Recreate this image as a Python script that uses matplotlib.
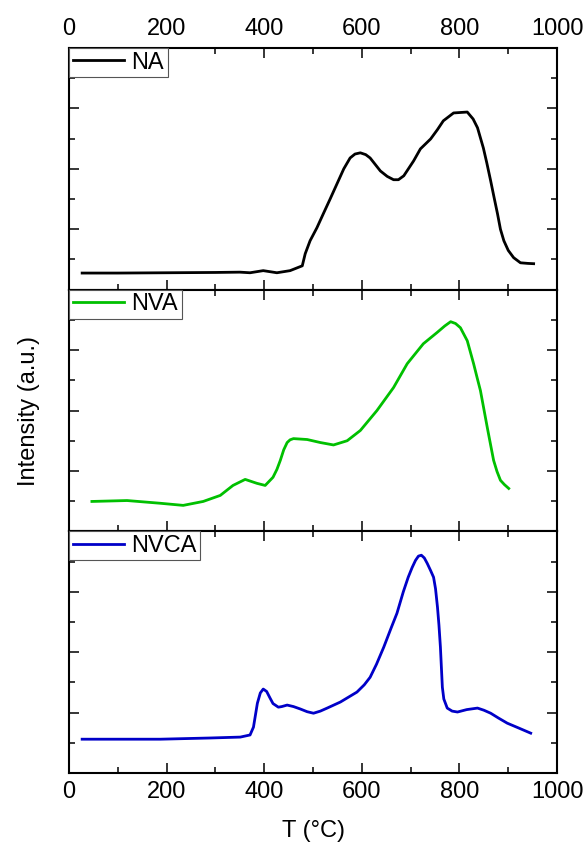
import numpy as np
import matplotlib.pyplot as plt
from matplotlib.ticker import MultipleLocator, NullFormatter

plt.rcParams['font.family'] = ['Liberation Sans', 'DejaVu Sans']
plt.rcParams['font.size'] = 17

# NA (black)
t_na = [27, 100, 200, 300, 350, 371, 398, 426, 453, 478, 484, 494, 508, 521, 535,
        549, 563, 576, 586, 597, 608, 617, 638, 652, 665, 675, 686, 706, 720, 741,
        755, 767, 788, 816, 828, 837, 849, 856, 864, 871, 878, 884, 891, 900, 911,
        925, 940, 952]
i_na = [0.55, 0.55, 0.56, 0.57, 0.58, 0.56, 0.63, 0.56, 0.63, 0.79, 1.19, 1.62, 2.05,
        2.51, 3.0, 3.5, 4.0, 4.36, 4.49, 4.53, 4.47, 4.36, 3.93, 3.75, 3.64, 3.64,
        3.77, 4.26, 4.66, 4.99, 5.3, 5.59, 5.85, 5.88, 5.65, 5.36, 4.69, 4.2, 3.6,
        3.05, 2.51, 2.0, 1.62, 1.3, 1.06, 0.89, 0.87, 0.86]

# NVA (green)
t_nva = [47, 119, 187, 234, 275, 310, 336, 361, 385, 402, 418, 426, 433, 440, 447,
         453, 460, 488, 515, 542, 570, 597, 631, 665, 693, 726, 754, 770, 782, 792,
         802, 816, 829, 836, 843, 850, 857, 864, 870, 877, 884, 892, 901]
i_nva = [0.99, 1.02, 0.93, 0.86, 0.99, 1.19, 1.52, 1.72, 1.59, 1.52, 1.79, 2.05, 2.35,
         2.7, 2.94, 3.03, 3.07, 3.04, 2.94, 2.86, 3.0, 3.34, 4.0, 4.76, 5.55, 6.21,
         6.58, 6.8, 6.94, 6.88, 6.74, 6.31, 5.55, 5.1, 4.66, 4.05, 3.44, 2.85, 2.35,
         1.98, 1.69, 1.55, 1.42]

# NVCA (blue)
t_nvca = [27, 187, 289, 351, 371, 378, 386, 392, 398, 405, 412, 418, 429, 436, 447,
          460, 474, 488, 501, 515, 529, 556, 590, 605, 617, 630, 645, 660, 672, 685,
          695, 703, 710, 716, 722, 728, 734, 741, 747, 751, 755, 758, 761, 763, 765,
          768, 775, 785, 796, 815, 837, 850, 864, 880, 898, 920, 946]
i_nvca = [1.12, 1.12, 1.16, 1.19, 1.26, 1.52, 2.31, 2.65, 2.78, 2.7, 2.48, 2.3, 2.18,
          2.2, 2.25, 2.2, 2.12, 2.03, 1.98, 2.05, 2.15, 2.35, 2.68, 2.92, 3.17, 3.6,
          4.17, 4.8, 5.29, 6.0, 6.48, 6.8, 7.04, 7.18, 7.21, 7.12, 6.94, 6.7, 6.48,
          6.1, 5.49, 4.9, 4.17, 3.5, 2.84, 2.45, 2.15, 2.05, 2.02, 2.1, 2.15, 2.08,
          1.98, 1.82, 1.65, 1.5, 1.32]

series = [(t_na, i_na, 'black', 'NA'),
          (t_nva, i_nva, '#00c000', 'NVA'),
          (t_nvca, i_nvca, '#0000c8', 'NVCA')]

fig, axes = plt.subplots(3, 1, figsize=(5.87, 8.48), dpi=100, sharex=True)
fig.subplots_adjust(left=0.1175, right=0.949, top=0.9434, bottom=0.0884, hspace=0)

for k, (ax, (t, y, col, lab)) in enumerate(zip(axes, series)):
    ax.plot(t, y, color=col, lw=2.0, label=lab, solid_joinstyle='round')
    ax.set_xlim(0, 1000)
    ax.set_ylim(0, 8)
    ax.xaxis.set_major_locator(MultipleLocator(200))
    ax.xaxis.set_minor_locator(MultipleLocator(100))
    ax.yaxis.set_major_locator(MultipleLocator(2))
    ax.yaxis.set_minor_locator(MultipleLocator(1))
    ax.yaxis.set_major_formatter(NullFormatter())
    ax.tick_params(which='both', direction='in', top=True, right=True, width=1.1)
    ax.tick_params(which='major', length=7)
    ax.tick_params(which='minor', length=4.5)
    ax.tick_params(axis='x', labelbottom=(k == 2), labeltop=(k == 0), pad=6)
    for s in ax.spines.values():
        s.set_linewidth(1.5)
    leg = ax.legend(loc='upper left', borderaxespad=0, fancybox=False,
                    handlelength=2.2, handletextpad=0.3, borderpad=0.15,
                    fontsize=17, framealpha=1)
    leg.get_frame().set_edgecolor('#555555')
    leg.get_frame().set_linewidth(0.8)

axes[2].set_xlabel('T (°C)', labelpad=12)
fig.text(0.05, 0.515, 'Intensity (a.u.)', rotation=90, ha='center', va='center', fontsize=17)

fig.savefig('out.png', dpi=100)
